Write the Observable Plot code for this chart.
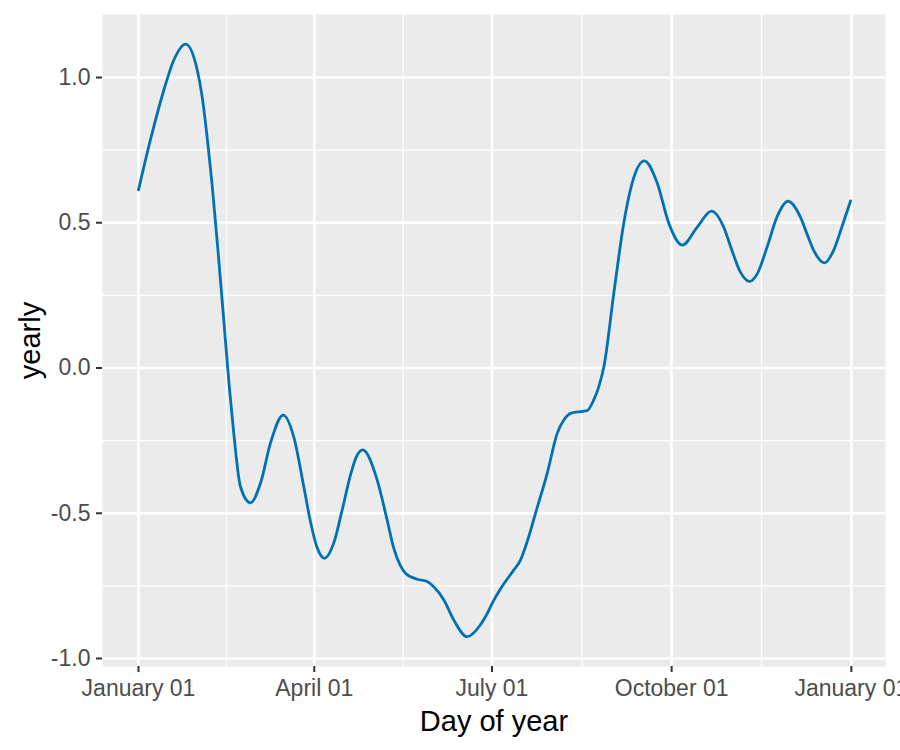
<!DOCTYPE html>
<html>
<head>
<meta charset="utf-8">
<script src="https://cdn.jsdelivr.net/npm/d3@7"></script>
<script src="https://cdn.jsdelivr.net/npm/@observablehq/plot@0.6"></script>
<style>
  body { margin: 0; background: white; }
</style>
</head>
<body>
<div id="chart"></div>
<script>
// Day offsets from 2017-01-01 and yearly component values
const dayOffsets = [0, 6.1, 13, 18.1, 24.1, 30.1, 32.6, 35.5, 37.7, 40.5, 43.5, 46.5, 48.8, 52.2, 57.3, 62.5, 67.6, 74.1, 79.5, 84.6, 87.7, 91.5, 95.2, 100, 104.4, 108.6, 111.5, 114.8, 122.2, 127.3, 130.7, 134.1, 136.8, 142.7, 147.8, 151.2, 156.3, 161.4, 168.3, 175.1, 178.5, 181.9, 185.4, 192.2, 195.6, 199.3, 203.3, 209.3, 214.4, 217.8, 221.2, 226.3, 229.7, 233.1, 235.7, 238.3, 243.4, 248.5, 252.8, 259, 265.6, 271.5, 278.5, 286, 293.4, 299.7, 303.1, 308.2, 312.9, 316.8, 321.9, 327, 332.6, 338.9, 342.4, 345.8, 351.3, 356, 360.2, 364.6];
const yearly = [0.613, 0.785, 0.957, 1.060, 1.115, 1.025, 0.934, 0.773, 0.630, 0.420, 0.178, -0.065, -0.226, -0.408, -0.464, -0.396, -0.258, -0.162, -0.237, -0.407, -0.517, -0.619, -0.655, -0.602, -0.486, -0.367, -0.307, -0.282, -0.385, -0.523, -0.620, -0.680, -0.707, -0.727, -0.735, -0.753, -0.798, -0.867, -0.925, -0.884, -0.846, -0.800, -0.760, -0.695, -0.661, -0.592, -0.500, -0.362, -0.225, -0.179, -0.156, -0.150, -0.147, -0.110, -0.064, 0.004, 0.258, 0.499, 0.637, 0.713, 0.637, 0.499, 0.423, 0.484, 0.540, 0.484, 0.420, 0.330, 0.298, 0.324, 0.417, 0.521, 0.574, 0.520, 0.460, 0.404, 0.362, 0.406, 0.486, 0.575];

const xTickDates = ["2017-01-01", "2017-04-01", "2017-07-01", "2017-10-01", "2018-01-01"];
const yTicks = [-1, -0.5, 0, 0.5, 1];
const yMinor = [-0.75, -0.25, 0.25, 0.75];

const base = Date.UTC(2017, 0, 1);
const dayMs = 864e5;
const data = dayOffsets.map((d, i) => ({date: new Date(base + d * dayMs), value: yearly[i]}));
const xTicks = xTickDates.map(s => new Date(s + "T00:00:00Z"));
const xMinor = xTicks.slice(1).map((t, i) => new Date((+t + +xTicks[i]) / 2));

const fontFamily = "'Liberation Sans', Arial, Helvetica, sans-serif";

const chart = Plot.plot({
  width: 900,
  height: 750,
  marginLeft: 102,
  marginRight: 15,
  marginTop: 14,
  marginBottom: 84,
  style: {fontFamily, background: "white"},
  x: {type: "utc", domain: [new Date(base - 18.43 * dayMs), new Date(base + 382.5 * dayMs)]},
  y: {domain: [-1.0275, 1.2168]},
  marks: [
    Plot.frame({fill: "#EBEBEB", stroke: null}),
    Plot.gridX(xMinor, {stroke: "white", strokeOpacity: 1, strokeWidth: 1.3}),
    Plot.gridY(yMinor, {stroke: "white", strokeOpacity: 1, strokeWidth: 1.3}),
    Plot.gridX(xTicks, {stroke: "white", strokeOpacity: 1, strokeWidth: 2.6}),
    Plot.gridY(yTicks, {stroke: "white", strokeOpacity: 1, strokeWidth: 2.6}),
    Plot.line(data, {x: "date", y: "value", stroke: "#0072B2", strokeWidth: 2.8, curve: "monotone-x"}),
    Plot.axisX(xTicks, {
      anchor: "bottom", tickSize: 6, tickPadding: 7, strokeWidth: 2,
      stroke: "#333333", fill: "#4D4D4D", fontSize: 23,
      tickFormat: d3.utcFormat("%B %d"), label: null
    }),
    Plot.axisY(yTicks, {
      anchor: "left", tickSize: 6, tickPadding: 6, strokeWidth: 2,
      stroke: "#333333", fill: "#4D4D4D", fontSize: 23,
      tickFormat: d => d.toFixed(1), label: null
    }),
    Plot.text(["Day of year"], {frameAnchor: "bottom", dy: 55, fontSize: 29, fill: "black", lineAnchor: "middle", textAnchor: "middle"}),
    Plot.text(["yearly"], {frameAnchor: "left", dx: -72, rotate: -90, fontSize: 29, fill: "black", lineAnchor: "middle", textAnchor: "middle"})
  ]
});
document.getElementById("chart").appendChild(chart);
</script>
</body>
</html>
